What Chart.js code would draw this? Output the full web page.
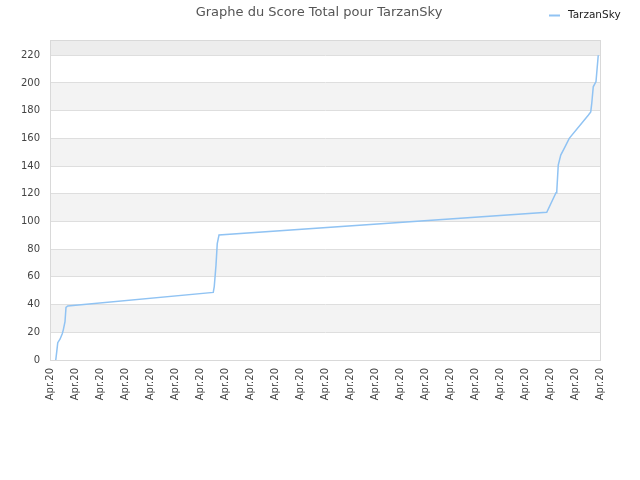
<!DOCTYPE html>
<html>
<head>
<meta charset="utf-8">
<script src="https://cdn.jsdelivr.net/npm/chart.js@4/dist/chart.umd.min.js"></script>
<style>
  html, body { margin: 0; padding: 0; background: #fff; }
  #wrap { width: 640px; height: 480px; }
</style>
</head>
<body>
<div id="wrap"><canvas id="scoreChart"></canvas></div>
<script>
// tick labels along the time axis
const tickLabels = ['Apr.20', 'Apr.20', 'Apr.20', 'Apr.20', 'Apr.20', 'Apr.20', 'Apr.20', 'Apr.20',
    'Apr.20', 'Apr.20', 'Apr.20', 'Apr.20', 'Apr.20', 'Apr.20', 'Apr.20', 'Apr.20',
    'Apr.20', 'Apr.20', 'Apr.20', 'Apr.20', 'Apr.20', 'Apr.20', 'Apr.20'];

// position of each reading on the time axis (in tick units) and the score at that moment
const timePos = [0.23, 0.27, 0.31, 0.40, 0.49, 0.53, 0.60, 0.64, 0.71,
    6.53, 6.57, 6.64, 6.69, 6.76,
    19.87, 20.24, 20.27, 20.33, 20.43, 20.60, 20.77,
    21.53, 21.63, 21.67, 21.73, 21.84, 21.93];
const scores = [0, 6, 12.5, 15, 19, 21.6, 27.6, 38, 39,
    48.8, 53, 68.5, 84, 90.2,
    106.6, 120.7, 121.5, 140.7, 147.9, 153.9, 160,
    176.7, 179.1, 185.2, 197.2, 201, 220];

const seriesName = 'TarzanSky';
const chartTitle = 'Graphe du Score Total pour TarzanSky';
const yMax = 231;

const lineColor = '#90c3f3';
const fontFamily = '"DejaVu Sans", Verdana, sans-serif';

const points = timePos.map((t, i) => ({ x: t, y: scores[i] }));

// alternating grey bands behind the grid, plus frame, title and legend
const decorPlugin = {
    id: 'decor',
    beforeDraw(chart) {
        const { ctx, chartArea: a, scales: { y } } = chart;
        ctx.save();
        for (let v = 0; v < yMax; v += 20) {
            if ((v / 20) % 2 === 1) {
                const top = y.getPixelForValue(Math.min(v + 20, yMax));
                const bottom = y.getPixelForValue(v);
                ctx.fillStyle = v + 20 > yMax ? '#ededed' : '#f3f3f3';
                ctx.fillRect(a.left, top, a.right - a.left, bottom - top);
            }
        }
        ctx.restore();
    },
    afterDraw(chart) {
        const { ctx, chartArea: a } = chart;
        ctx.save();
        ctx.strokeStyle = '#d9d9d9';
        ctx.lineWidth = 1;
        ctx.strokeRect(a.left + 0.5, a.top + 0.5, a.right - a.left, a.bottom - a.top);

        ctx.fillStyle = '#555';
        ctx.font = '13px ' + fontFamily;
        ctx.textAlign = 'center';
        ctx.textBaseline = 'middle';
        ctx.fillText(chartTitle, 319, 13);

        ctx.strokeStyle = lineColor;
        ctx.lineWidth = 2;
        ctx.beginPath();
        ctx.moveTo(549, 15.5);
        ctx.lineTo(560, 15.5);
        ctx.stroke();
        ctx.fillStyle = '#222';
        ctx.font = '10.5px ' + fontFamily;
        ctx.textAlign = 'left';
        ctx.fillText(seriesName, 568, 15);
        ctx.restore();
    }
};

new Chart(document.getElementById('scoreChart'), {
    type: 'line',
    data: {
        datasets: [{
            label: seriesName,
            data: points,
            borderColor: lineColor,
            borderWidth: 1.5,
            pointRadius: 0,
            tension: 0,
            fill: false
        }]
    },
    options: {
        responsive: true,
        maintainAspectRatio: false,
        animation: false,
        layout: {
            padding: { top: 40, right: 40, left: 0, bottom: 0 }
        },
        plugins: {
            legend: { display: false },
            title: { display: false },
            tooltip: { enabled: false }
        },
        scales: {
            x: {
                type: 'linear',
                min: 0,
                max: tickLabels.length - 1,
                grid: { display: false, drawTicks: false },
                border: { color: '#d9d9d9' },
                afterFit: function(scale) { scale.height = 120; },
                ticks: {
                    stepSize: 1,
                    autoSkip: false,
                    minRotation: 90,
                    maxRotation: 90,
                    padding: 8,
                    color: '#444',
                    font: { family: fontFamily, size: 10 },
                    callback: function(value) { return tickLabels[value]; }
                }
            },
            y: {
                min: 0,
                max: yMax,
                grid: { color: '#dedede', drawTicks: false },
                border: { color: '#d9d9d9' },
                afterFit: function(scale) { scale.width = 50; },
                afterBuildTicks: function(scale) {
                    scale.ticks = scale.ticks.filter(t => t.value % 20 === 0);
                },
                ticks: {
                    stepSize: 20,
                    padding: 10,
                    color: '#444',
                    font: { family: fontFamily, size: 10 }
                }
            }
        }
    },
    plugins: [decorPlugin]
});
</script>
</body>
</html>
